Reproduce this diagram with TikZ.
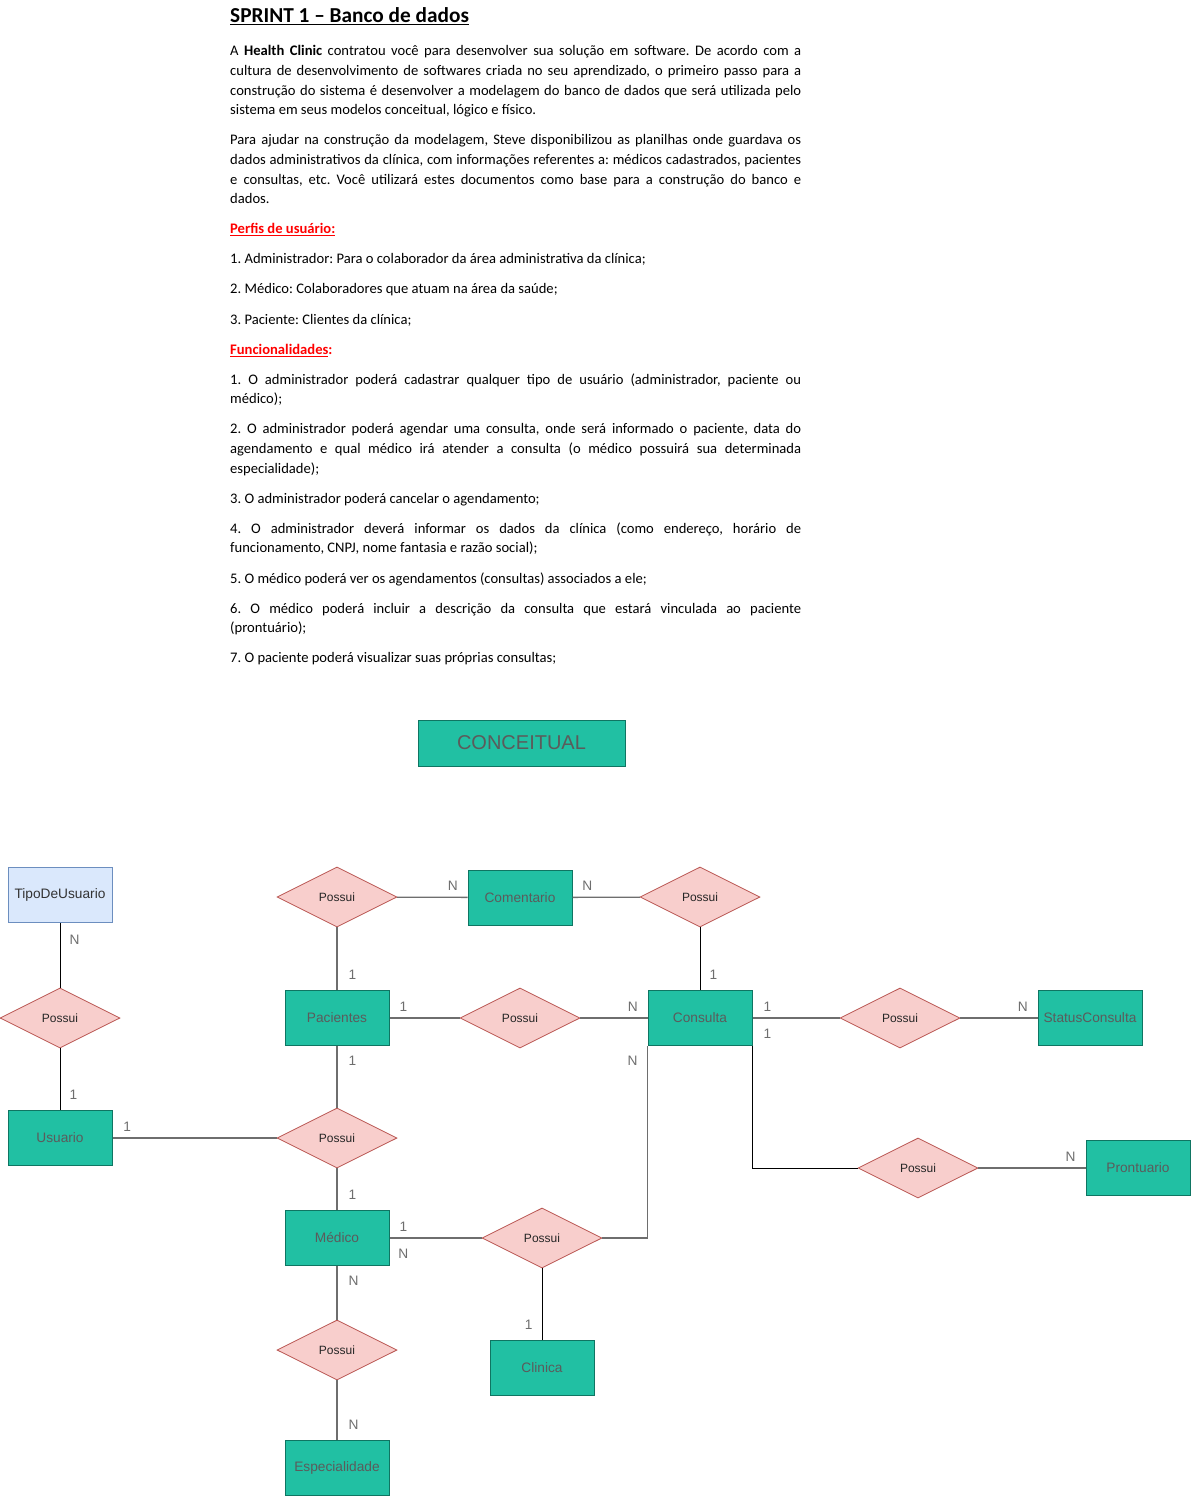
\documentclass[tikz,border=0pt]{standalone}
\usepackage{fontspec}
\setmainfont{Carlito}
\newfontfamily\drawfont{Liberation Sans}
\usetikzlibrary{shapes.geometric}
\definecolor{entfill}{HTML}{21C0A3}
\definecolor{entdraw}{HTML}{0F7562}
\definecolor{relfill}{HTML}{F8CECC}
\definecolor{reldraw}{HTML}{B85450}
\definecolor{tipofill}{HTML}{DAE8FC}
\definecolor{tipodraw}{HTML}{6C8EBF}
\definecolor{linegray}{HTML}{6E6E6E}
\definecolor{txtgray}{HTML}{5B5B5B}
\frenchspacing

\begin{document}
\begin{tikzpicture}[x=1pt,y=-1pt,
    entity/.style={draw=entdraw,fill=entfill,line width=1pt,minimum width=104pt,minimum height=55pt,inner sep=0pt,text=txtgray,font=\drawfont\fontsize{13.7}{16}\selectfont},
    rel/.style={diamond,draw=reldraw,fill=relfill,line width=0.8pt,aspect=2,minimum width=120pt,minimum height=60pt,inner sep=0pt,text=black!85,font=\drawfont\fontsize{12}{14}\selectfont},
    card/.style={inner sep=0pt,text=linegray,font=\drawfont\fontsize{13.7}{16}\selectfont},
    link/.style={draw=linegray,line width=1.3pt},
    dlink/.style={draw=black,line width=1pt},
    body/.style={anchor=base west,inner sep=0pt,text width=571pt,align=justify,font=\fontsize{14.6}{19.6}\selectfont}]
    \useasboundingbox (0,0) rectangle (1192,1496);

    \node[anchor=base west,inner sep=0pt,font=\bfseries\fontsize{21.3}{24}\selectfont] (titulo) at (230,23) {\underline{SPRINT 1 – Banco de dados}};
    \node[body] (texto) at (230,56) {\setlength\parskip{10.5pt}\parindent=0pt\hyphenpenalty=10000
A \textbf{Health Clinic} contratou você para desenvolver sua solução em software. De acordo com a\linebreak cultura de desenvolvimento de softwares criada no seu aprendizado, o primeiro passo para a\linebreak construção do sistema é desenvolver a modelagem do banco de dados que será utilizada pelo\linebreak sistema em seus modelos conceitual, lógico e físico.\par
Para ajudar na construção da modelagem, Steve disponibilizou as planilhas onde guardava os\linebreak dados administrativos da clínica, com informações referentes a: médicos cadastrados, pacientes\linebreak e consultas, etc. Você utilizará estes documentos como base para a construção do banco e\linebreak dados.\par
{\color{red}\bfseries\underline{Perfis de usuário:}}\par
1. Administrador: Para o colaborador da área administrativa da clínica;\par
2. Médico: Colaboradores que atuam na área da saúde;\par
3. Paciente: Clientes da clínica;\par
{\color{red}\bfseries\underline{Funcionalidades}:}\par
1. O administrador poderá cadastrar qualquer tipo de usuário (administrador, paciente ou\linebreak médico);\par
2. O administrador poderá agendar uma consulta, onde será informado o paciente, data do\linebreak agendamento e qual médico irá atender a consulta (o médico possuirá sua determinada\linebreak especialidade);\par
3. O administrador poderá cancelar o agendamento;\par
4. O administrador deverá informar os dados da clínica (como endereço, horário de\linebreak funcionamento, CNPJ, nome fantasia e razão social);\par
5. O médico poderá ver os agendamentos (consultas) associados a ele;\par
6. O médico poderá incluir a descrição da consulta que estará vinculada ao paciente\linebreak (prontuário);\par
7. O paciente poderá visualizar suas próprias consultas;};

    \node[entity,minimum width=207pt,minimum height=46pt,font=\drawfont\fontsize{20}{24}\selectfont] (conceitual) at (521.5,743) {CONCEITUAL};

    \node[entity,fill=tipofill,draw=tipodraw,text=black!80] (tipo) at (60,895) {TipoDeUsuario};
    \node[rel] (possuiTipo) at (60,1018) {Possui};
    \node[entity] (usuario) at (60,1138) {Usuario};
    \node[rel] (possuiComent) at (337,897) {Possui};
    \node[entity] (comentario) at (520,897.5) {Comentario};
    \node[rel] (possuiConsComent) at (700,897) {Possui};
    \node[entity] (pacientes) at (337,1018) {Pacientes};
    \node[rel] (possuiPacCons) at (520,1018) {Possui};
    \node[entity] (consulta) at (700,1018) {Consulta};
    \node[rel] (possuiStatus) at (900,1018) {Possui};
    \node[entity] (status) at (1090,1018) {StatusConsulta};
    \node[rel] (possuiUsuario) at (337,1138) {Possui};
    \node[rel] (possuiPront) at (918,1168) {Possui};
    \node[entity] (prontuario) at (1138,1168) {Prontuario};
    \node[entity] (medico) at (337,1238) {Médico};
    \node[rel] (possuiClinica) at (542,1238) {Possui};
    \node[entity] (clinica) at (542,1368) {Clinica};
    \node[rel] (possuiEspec) at (337,1350) {Possui};
    \node[entity] (especialidade) at (337,1468) {Especialidade};

    \path[dlink] (tipo) edge node[card,pos=0.26,right=9pt] {N} (possuiTipo);
    \path[dlink] (possuiTipo) edge node[card,pos=0.76,right=9pt] {1} (usuario);
    \path[link] (usuario) edge node[card,pos=0.09,above=6pt] {1} (possuiUsuario);
    \path[link] (possuiUsuario) edge node[card,pos=0.76,right=11pt] {1} (pacientes);
    \path[link] (possuiUsuario) edge node[card,pos=0.64,right=11pt] {1} (medico);
    \path[link] (possuiComent) edge node[card,pos=0.76,right=11pt] {1} (pacientes);
    \path[link] (possuiComent) edge node[card,pos=0.79,above=6pt] {N} (comentario);
    \path[link] (comentario) edge node[card,pos=0.22,above=6pt] {N} (possuiConsComent);
    \path[dlink] (possuiConsComent) edge node[card,pos=0.76,right=9pt] {1} (consulta);
    \path[link] (pacientes) edge node[card,pos=0.2,above=6pt] {1} (possuiPacCons);
    \path[link] (possuiPacCons) edge node[card,pos=0.78,above=6pt] {N} (consulta);
    \path[link] (consulta) edge node[card,pos=0.17,above=6pt] {1} (possuiStatus);
    \path[link] (possuiStatus) edge node[card,pos=0.81,above=6pt] {N} (status);
    \draw[dlink] (consulta.south east) |- node[card,pos=0,xshift=15pt,yshift=12pt] {1} (possuiPront.west);
    \path[link] (possuiPront) edge node[card,pos=0.86,above=6pt] {N} (prontuario);
    \path[link] (medico) edge node[card,pos=0.15,above=6pt] {1} node[card,pos=0.15,below=10pt] {N} (possuiClinica);
    \draw[link] (possuiClinica.east) -| node[card,pos=1,xshift=-15pt,yshift=-15pt] {N} (consulta.south west);
    \path[dlink] (possuiClinica) edge node[card,pos=0.79,left=9pt] {1} (clinica);
    \path[link] (medico) edge node[card,pos=0.27,right=11pt] {N} (possuiEspec);
    \path[link] (possuiEspec) edge node[card,pos=0.75,right=11pt] {N} (especialidade);
\end{tikzpicture}
\end{document}
